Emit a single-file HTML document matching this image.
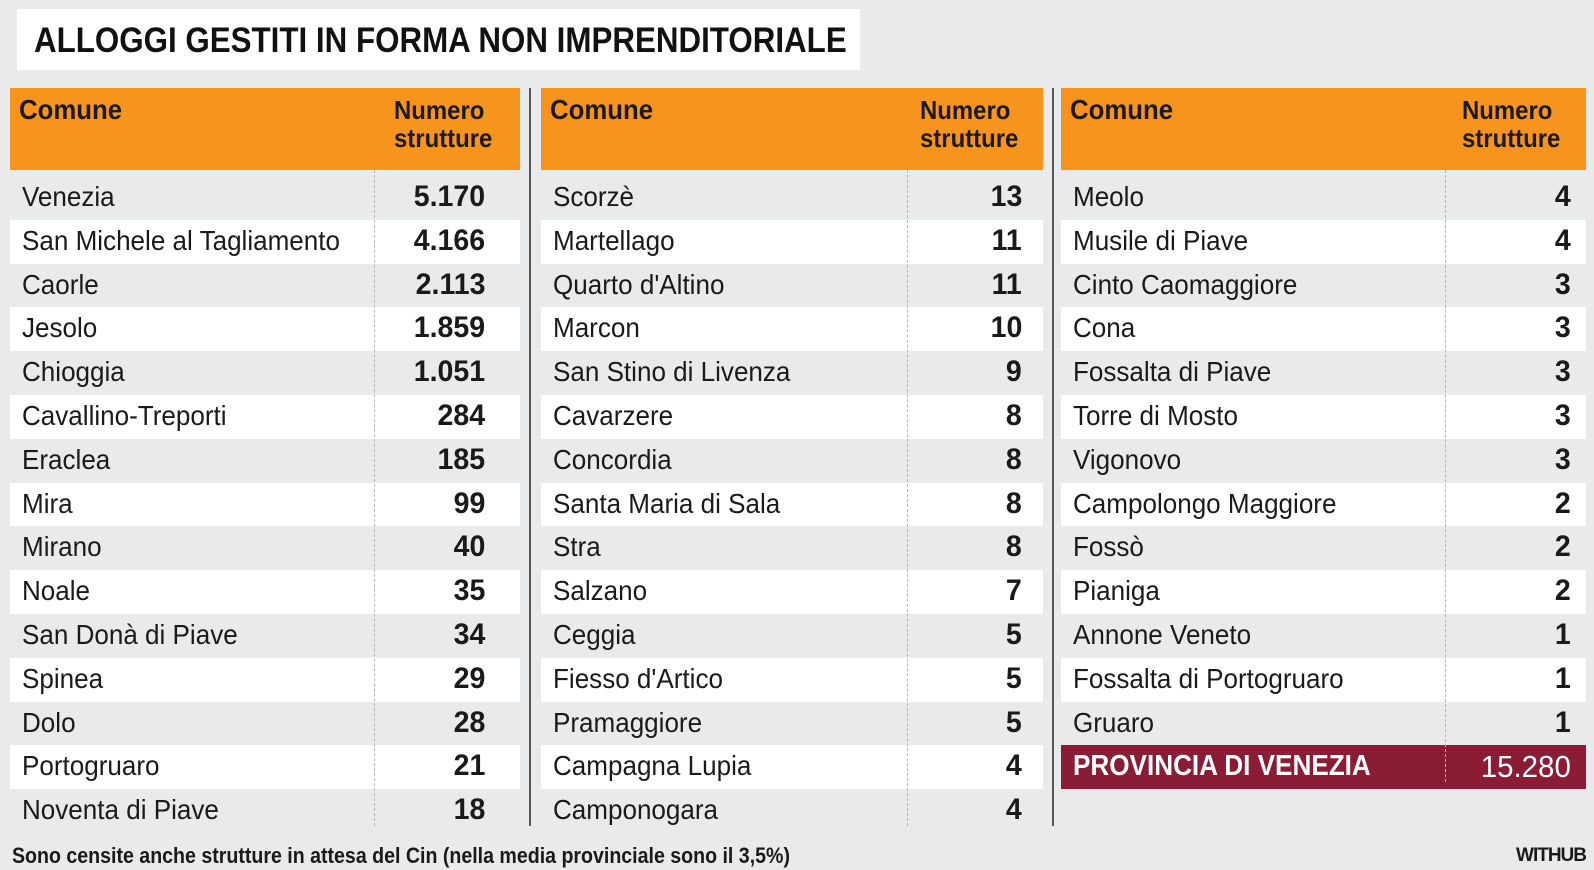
<!DOCTYPE html>
<html><head><meta charset="utf-8"><style>
*{margin:0;padding:0;box-sizing:border-box}
body{width:1594px;height:870px;background:#e9eaec;font-family:"Liberation Sans",sans-serif;position:relative;overflow:hidden;color:#1a1a1a}
.title{position:absolute;left:17px;top:9px;width:843px;height:61px;background:#fff}
.title span{position:absolute;left:17px;top:12px;font-weight:bold;font-size:35px;white-space:nowrap;transform:scaleX(0.895);transform-origin:left top;color:#111}
.col{position:absolute;top:88px}
.hdr{position:absolute;left:0;top:0;height:82px;background:#f7941d;width:100%}
.hdr .c{position:absolute;left:9px;top:6px;font-weight:bold;font-size:28px;transform:scaleX(0.92);transform-origin:left top}
.hdr .n{position:absolute;top:8px;font-weight:bold;font-size:26px;line-height:28px;transform:scaleX(0.92);transform-origin:left top}
.row{position:absolute;left:0;width:100%;height:43.8px}
.row.w{background:#fff}
.row .a{position:absolute;left:12px;top:5px;font-size:28px;white-space:nowrap;transform:scaleX(0.93);transform-origin:left top}
.row .b{position:absolute;top:4px;font-size:30px;font-weight:bold;white-space:nowrap;transform:scaleX(0.95);transform-origin:right top}
.sep{position:absolute;top:82px;height:656px;border-left:1px dashed #b5b5b5}
.vl{position:absolute;top:88px;height:738px;width:2px;background:#555}
.tot{background:#8b1c36!important;color:#fff}
.foot{position:absolute;left:12px;top:843px;font-size:22px;font-weight:bold;white-space:nowrap;transform:scaleX(0.89);transform-origin:left top}
.wh{position:absolute;right:8px;top:845px;font-size:19px;font-weight:bold;letter-spacing:-1px}
</style></head><body>
<div class="title"><span>ALLOGGI GESTITI IN FORMA NON IMPRENDITORIALE</span></div>
<div class="vl" style="left:529px"></div>
<div class="vl" style="left:1052px"></div>

<div class="col" style="left:10px;width:510px">
<div class="hdr"><div class="c">Comune</div><div class="n" style="left:384px">Numero<br>strutture</div></div>
<div class="row" style="top:88px"><span class="a">Venezia</span><span class="b" style="right:35px">5.170</span></div>
<div class="row w" style="top:131.8px"><span class="a">San Michele al Tagliamento</span><span class="b" style="right:35px">4.166</span></div>
<div class="row" style="top:175.6px"><span class="a">Caorle</span><span class="b" style="right:35px">2.113</span></div>
<div class="row w" style="top:219.4px"><span class="a">Jesolo</span><span class="b" style="right:35px">1.859</span></div>
<div class="row" style="top:263.2px"><span class="a">Chioggia</span><span class="b" style="right:35px">1.051</span></div>
<div class="row w" style="top:307px"><span class="a">Cavallino-Treporti</span><span class="b" style="right:35px">284</span></div>
<div class="row" style="top:350.8px"><span class="a">Eraclea</span><span class="b" style="right:35px">185</span></div>
<div class="row w" style="top:394.6px"><span class="a">Mira</span><span class="b" style="right:35px">99</span></div>
<div class="row" style="top:438.4px"><span class="a">Mirano</span><span class="b" style="right:35px">40</span></div>
<div class="row w" style="top:482.2px"><span class="a">Noale</span><span class="b" style="right:35px">35</span></div>
<div class="row" style="top:526px"><span class="a">San Donà di Piave</span><span class="b" style="right:35px">34</span></div>
<div class="row w" style="top:569.8px"><span class="a">Spinea</span><span class="b" style="right:35px">29</span></div>
<div class="row" style="top:613.6px"><span class="a">Dolo</span><span class="b" style="right:35px">28</span></div>
<div class="row w" style="top:657.4px"><span class="a">Portogruaro</span><span class="b" style="right:35px">21</span></div>
<div class="row" style="top:701.2px"><span class="a">Noventa di Piave</span><span class="b" style="right:35px">18</span></div>
<div class="sep" style="left:364px"></div>
</div>

<div class="col" style="left:541px;width:502px">
<div class="hdr"><div class="c">Comune</div><div class="n" style="left:379px">Numero<br>strutture</div></div>
<div class="row" style="top:88px"><span class="a">Scorzè</span><span class="b" style="right:21px">13</span></div>
<div class="row w" style="top:131.8px"><span class="a">Martellago</span><span class="b" style="right:21px">11</span></div>
<div class="row" style="top:175.6px"><span class="a">Quarto d'Altino</span><span class="b" style="right:21px">11</span></div>
<div class="row w" style="top:219.4px"><span class="a">Marcon</span><span class="b" style="right:21px">10</span></div>
<div class="row" style="top:263.2px"><span class="a">San Stino di Livenza</span><span class="b" style="right:21px">9</span></div>
<div class="row w" style="top:307px"><span class="a">Cavarzere</span><span class="b" style="right:21px">8</span></div>
<div class="row" style="top:350.8px"><span class="a">Concordia</span><span class="b" style="right:21px">8</span></div>
<div class="row w" style="top:394.6px"><span class="a">Santa Maria di Sala</span><span class="b" style="right:21px">8</span></div>
<div class="row" style="top:438.4px"><span class="a">Stra</span><span class="b" style="right:21px">8</span></div>
<div class="row w" style="top:482.2px"><span class="a">Salzano</span><span class="b" style="right:21px">7</span></div>
<div class="row" style="top:526px"><span class="a">Ceggia</span><span class="b" style="right:21px">5</span></div>
<div class="row w" style="top:569.8px"><span class="a">Fiesso d'Artico</span><span class="b" style="right:21px">5</span></div>
<div class="row" style="top:613.6px"><span class="a">Pramaggiore</span><span class="b" style="right:21px">5</span></div>
<div class="row w" style="top:657.4px"><span class="a">Campagna Lupia</span><span class="b" style="right:21px">4</span></div>
<div class="row" style="top:701.2px"><span class="a">Camponogara</span><span class="b" style="right:21px">4</span></div>
<div class="sep" style="left:366px"></div>
</div>

<div class="col" style="left:1061px;width:525px">
<div class="hdr"><div class="c">Comune</div><div class="n" style="left:401px">Numero<br>strutture</div></div>
<div class="row" style="top:88px"><span class="a">Meolo</span><span class="b" style="right:15px">4</span></div>
<div class="row w" style="top:131.8px"><span class="a">Musile di Piave</span><span class="b" style="right:15px">4</span></div>
<div class="row" style="top:175.6px"><span class="a">Cinto Caomaggiore</span><span class="b" style="right:15px">3</span></div>
<div class="row w" style="top:219.4px"><span class="a">Cona</span><span class="b" style="right:15px">3</span></div>
<div class="row" style="top:263.2px"><span class="a">Fossalta di Piave</span><span class="b" style="right:15px">3</span></div>
<div class="row w" style="top:307px"><span class="a">Torre di Mosto</span><span class="b" style="right:15px">3</span></div>
<div class="row" style="top:350.8px"><span class="a">Vigonovo</span><span class="b" style="right:15px">3</span></div>
<div class="row w" style="top:394.6px"><span class="a">Campolongo Maggiore</span><span class="b" style="right:15px">2</span></div>
<div class="row" style="top:438.4px"><span class="a">Fossò</span><span class="b" style="right:15px">2</span></div>
<div class="row w" style="top:482.2px"><span class="a">Pianiga</span><span class="b" style="right:15px">2</span></div>
<div class="row" style="top:526px"><span class="a">Annone Veneto</span><span class="b" style="right:15px">1</span></div>
<div class="row w" style="top:569.8px"><span class="a">Fossalta di Portogruaro</span><span class="b" style="right:15px">1</span></div>
<div class="row" style="top:613.6px"><span class="a">Gruaro</span><span class="b" style="right:15px">1</span></div>
<div class="row tot" style="top:657.4px"><span class="a" style="font-weight:bold;font-size:29px;transform:scaleX(0.9)">PROVINCIA DI VENEZIA</span><span class="b" style="right:15px;font-weight:normal;font-size:31px">15.280</span></div>
<div class="sep" style="left:384px;height:612px"></div>
</div>

<div class="foot">Sono censite anche strutture in attesa del Cin (nella media provinciale sono il 3,5%)</div>
<div class="wh">WITHUB</div>
</body></html>
